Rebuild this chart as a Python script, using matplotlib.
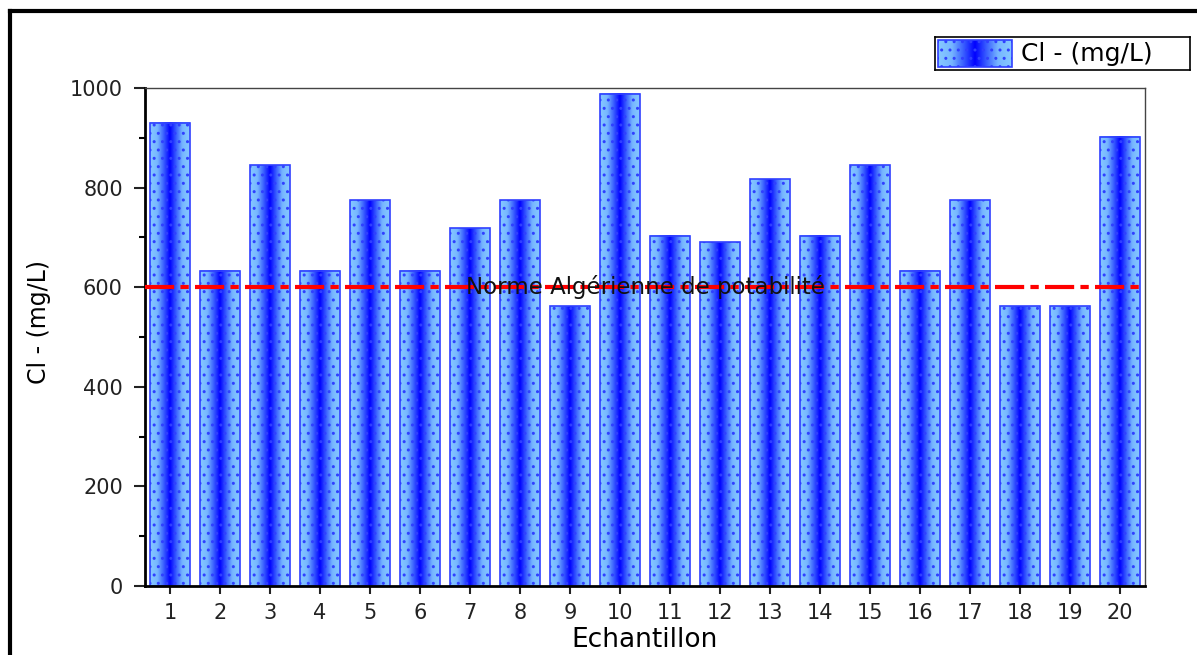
import numpy as np
import matplotlib
matplotlib.use("Agg")
import matplotlib.pyplot as plt
from matplotlib.colors import LinearSegmentedColormap
from matplotlib.lines import Line2D
from matplotlib.patches import Rectangle

plt.rcParams['font.family'] = ['DejaVu Sans']
plt.rcParams['hatch.color'] = '#1a28c8'
plt.rcParams['hatch.linewidth'] = 1.0

samples = list(range(1, 21))
chlorures = [930, 633, 845, 633, 775, 633, 718, 775, 562, 988,
             703, 690, 817, 703, 845, 633, 775, 562, 562, 902]
norme = 600
norme_label = "Norme Algérienne de potabilité"
serie_label = "Cl - (mg/L)"

fig = plt.figure(figsize=(11.97, 6.55), dpi=100)
ax = fig.add_axes([145/1197, 1 - 586/655, 1000/1197, 498/655])

# gradient light -> dark blue -> light across each bar
cmap = LinearSegmentedColormap.from_list(
    "bleu",
    [(0.0, "#86c8ff"), (0.18, "#76b6ff"), (0.34, "#3a60ff"), (0.5, "#0000ff"),
     (0.66, "#3a60ff"), (0.82, "#76b6ff"), (1.0, "#86c8ff")])
grad = np.linspace(0, 1, 64).reshape(1, -1)
w = 0.8
for x, h in zip(samples, chlorures):
    ax.imshow(grad, extent=(x - w/2, x + w/2, 0, h), cmap=cmap, aspect='auto',
              interpolation='bilinear', zorder=1)
bars = ax.bar(samples, chlorures, width=w, facecolor='none', edgecolor='#3040ff',
              linewidth=1.2, hatch='..', zorder=2)

ax.axhline(norme, color='red', linestyle=(0, (7, 1.5, 2, 1.5)), linewidth=3, zorder=3)
ax.text(10.5, norme, norme_label, ha='center', va='center', fontsize=16.5,
        color='#111111', zorder=4)

ax.set_xlim(0.5, 20.5)
ax.set_ylim(0, 1000)
ax.set_xticks(samples)
ax.set_yticks(range(0, 1001, 200))
ax.set_yticks(range(100, 1000, 200), minor=True)
ax.tick_params(axis='both', direction='out', labelsize=15, width=1.5, colors='#222222')
ax.tick_params(axis='y', which='major', length=8, pad=8)
ax.tick_params(axis='y', which='minor', length=4, width=1.5)
ax.tick_params(axis='x', length=6, pad=6)
for s in ['left', 'bottom']:
    ax.spines[s].set_linewidth(2)
for s in ['top', 'right']:
    ax.spines[s].set_linewidth(1)
    ax.spines[s].set_color('#444444')
ax.set_xlabel("Echantillon", fontsize=19, labelpad=3)
ax.set_ylabel(serie_label, fontsize=17)
ax.yaxis.set_label_coords(-0.094, 0.53)

# legend box
lax = fig.add_axes([935/1197, 1 - 70/655, 255/1197, 33/655])
lax.set_xticks([])
lax.set_yticks([])
for s in lax.spines.values():
    s.set_linewidth(1.2)
lax.imshow(grad, extent=(3, 77, 3, 30), cmap=cmap, aspect='auto', interpolation='bilinear')
lax.add_patch(Rectangle((3, 3), 74, 27, facecolor='none', edgecolor='#3040ff', hatch='..', linewidth=1.2))
lax.text(86, 16.5, serie_label, va='center', fontsize=18)
lax.set_xlim(0, 255)
lax.set_ylim(0, 33)

# outer frame
fig.add_artist(Line2D([10/1197, 1], [1 - 11/655, 1 - 11/655], color='black', linewidth=3))
fig.add_artist(Line2D([10/1197, 10/1197], [0, 1 - 11/655], color='black', linewidth=3))

fig.savefig("out.png", dpi=100)
